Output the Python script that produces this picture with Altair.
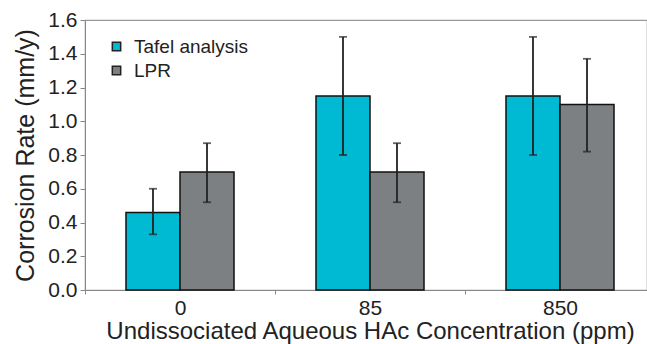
import altair as alt
import pandas as pd

concentrations = ["0", "85", "850"]
series = ["Tafel analysis", "LPR"]
tafel_vals = [0.46, 1.15, 1.15]
tafel_lo = [0.33, 0.80, 0.80]
tafel_hi = [0.60, 1.50, 1.50]
lpr_vals = [0.70, 0.70, 1.10]
lpr_lo = [0.52, 0.52, 0.82]
lpr_hi = [0.87, 0.87, 1.37]
y_ticks = [0.0, 0.2, 0.4, 0.6, 0.8, 1.0, 1.2, 1.4, 1.6]

rows = []
for i, c in enumerate(concentrations):
    rows.append({"conc": c, "series": "Tafel analysis", "value": tafel_vals[i], "lo": tafel_lo[i], "hi": tafel_hi[i]})
    rows.append({"conc": c, "series": "LPR", "value": lpr_vals[i], "lo": lpr_lo[i], "hi": lpr_hi[i]})
df = pd.DataFrame(rows)

FONT = "Liberation Sans"

xaxis = alt.Axis(title="Undissociated Aqueous HAc Concentration (ppm)", labelAngle=0,
                 tickBand="extent", labelFontSize=21, titleFontSize=24,
                 titleFontWeight="normal",
                 labelPadding=3, titlePadding=1, tickSize=4,
                 domainColor="#888", tickColor="#888",
                 labelColor="#222", titleColor="#222")
xscale = alt.Scale(range=[0, 570], paddingInner=0, paddingOuter=0)
xoffscale = alt.Scale(paddingInner=0, paddingOuter=0.759)
yscale = alt.Scale(domain=[0, 1.6], nice=False)
yaxis = alt.Axis(title="Corrosion Rate (mm/y)", values=y_ticks,
                 format=".1f", grid=False, labelFontSize=21, titleFontSize=25,
                 titleFontWeight="normal", labelOverlap=False,
                 tickSize=5, labelPadding=3, titlePadding=9,
                 domainColor="#888", tickColor="#888",
                 labelColor="#222", titleColor="#222")


def X():
    return alt.X("conc:N", sort=concentrations, scale=xscale, axis=xaxis)


def XO():
    return alt.XOffset("series:N", sort=series, scale=xoffscale)


color = alt.Color("series:N", sort=series,
                  scale=alt.Scale(domain=series, range=["#00B9D3", "#7C8083"]),
                  legend=alt.Legend(title=None, orient="none", legendX=22, legendY=17,
                                    symbolType="square", symbolSize=70,
                                    symbolStrokeColor="#222", symbolStrokeWidth=1.5,
                                    labelFontSize=19, labelColor="#222",
                                    rowPadding=4, labelOffset=8))

bars = alt.Chart(df).mark_bar(stroke="#111", strokeWidth=1.5).encode(
    x=X(), xOffset=XO(),
    y=alt.Y("value:Q", scale=yscale, axis=yaxis),
    color=color,
)

err = alt.Chart(df).mark_rule(color="#222", strokeWidth=1.8).encode(
    x=X(), xOffset=XO(),
    y=alt.Y("lo:Q", scale=yscale, axis=yaxis), y2="hi:Q",
)
cap_lo = alt.Chart(df).mark_tick(color="#222", thickness=1.8, size=8, orient="horizontal").encode(
    x=X(), xOffset=XO(),
    y=alt.Y("lo:Q", scale=yscale, axis=yaxis),
)
cap_hi = alt.Chart(df).mark_tick(color="#222", thickness=1.8, size=8, orient="horizontal").encode(
    x=X(), xOffset=XO(),
    y=alt.Y("hi:Q", scale=yscale, axis=yaxis),
)

chart = alt.layer(bars, err, cap_lo, cap_hi).properties(
    width=562, height=270,
    autosize=alt.AutoSizeParams(type="none"),
    padding={"left": 85, "top": 20, "right": 0, "bottom": 54},
).configure(font=FONT, background="white").configure_view(stroke="#999", strokeWidth=1.2)

chart.save("out.html", embed_options={"renderer": "svg", "actions": False})
